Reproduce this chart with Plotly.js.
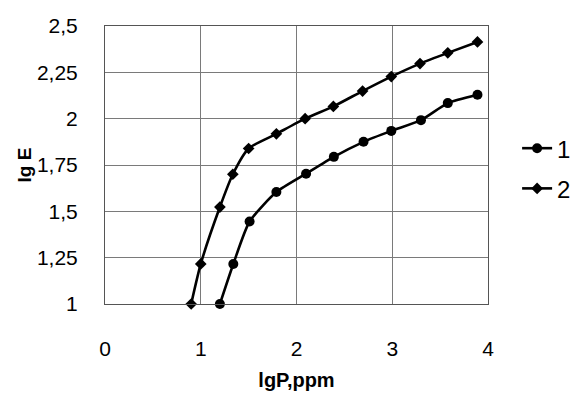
<!DOCTYPE html>
<html>
<head>
<meta charset="utf-8">
<script src="https://cdn.plot.ly/plotly-3.0.1.min.js"></script>
<style>html,body{margin:0;padding:0;background:#fff;}#chart{width:586px;height:396px;}</style>
</head>
<body>
<div id="chart"></div>
<script>
const s1x = [1.2, 1.34, 1.51, 1.79, 2.1, 2.39, 2.7, 2.99, 3.3, 3.58, 3.89];
const s1y = [1.0, 1.216, 1.445, 1.604, 1.703, 1.794, 1.875, 1.934, 1.992, 2.084, 2.129];
const s2x = [0.9, 1.0, 1.2, 1.335, 1.5, 1.79, 2.09, 2.385, 2.69, 2.99, 3.29, 3.58, 3.89];
const s2y = [1.0, 1.216, 1.523, 1.70, 1.839, 1.918, 2.0, 2.066, 2.149, 2.227, 2.297, 2.355, 2.414];
const xTickVals = [0, 1, 2, 3, 4];
const xTickText = ['0', '1', '2', '3', '4'];
const yTickVals = [1, 1.25, 1.5, 1.75, 2, 2.25, 2.5];
const yTickText = ['1', '1,25', '1,5', '1,75', '2', '2,25', '2,5'];
const seriesNames = ['1', '2'];

const FONT = 'Liberation Sans, Arial, sans-serif';
const traces = [
  {x: s1x, y: s1y, name: seriesNames[0], type: 'scatter', mode: 'lines+markers',
   line: {color: '#000', width: 2.6, shape: 'spline', smoothing: 0.6},
   marker: {symbol: 'circle', size: 10, color: '#000'}, cliponaxis: false, legendgroup: 'a'},
  {x: s2x, y: s2y, name: seriesNames[1], type: 'scatter', mode: 'lines+markers',
   line: {color: '#000', width: 2.6, shape: 'spline', smoothing: 0.6},
   marker: {symbol: 'diamond', size: 9, color: '#000'}, cliponaxis: false, legendgroup: 'b'}
];
const layout = {
  width: 586, height: 396,
  margin: {l: 105, r: 98, t: 26, b: 92, pad: 0, autoexpand: false},
  paper_bgcolor: '#fff', plot_bgcolor: '#fff',
  font: {family: FONT, color: '#000', size: 21},
  showlegend: true,
  legend: {x: 1.076, y: 0.64, xanchor: 'left', yanchor: 'top', font: {family: FONT, size: 24, color: '#000'},
           bgcolor: 'rgba(0,0,0,0)', borderwidth: 0, tracegroupgap: 6, itemwidth: 30},
  xaxis: {range: [0, 4], tickvals: xTickVals, ticktext: xTickText, showgrid: true, gridcolor: '#7a7a7a', gridwidth: 1,
          showline: true, linecolor: '#555', linewidth: 1, mirror: true, zeroline: false, automargin: false,
          ticks: '', ticklabelstandoff: 26, tickfont: {family: FONT, size: 21, color: '#000'},
          title: {text: '<b>lgP,ppm</b>', font: {family: FONT, size: 20, color: '#000'}, standoff: 13}},
  yaxis: {range: [1, 2.5], tickvals: yTickVals, ticktext: yTickText, showgrid: true, gridcolor: '#7a7a7a', gridwidth: 1,
          showline: true, linecolor: '#555', linewidth: 1, mirror: true, zeroline: false, automargin: false,
          ticks: '', ticklabelstandoff: 22, tickfont: {family: FONT, size: 21, color: '#000'},
          title: {text: '<b>lg E</b>', font: {family: FONT, size: 19, color: '#000'}, standoff: 0}}
};
Plotly.newPlot('chart', traces, layout, {displayModeBar: false, staticPlot: true});
</script>
</body>
</html>
